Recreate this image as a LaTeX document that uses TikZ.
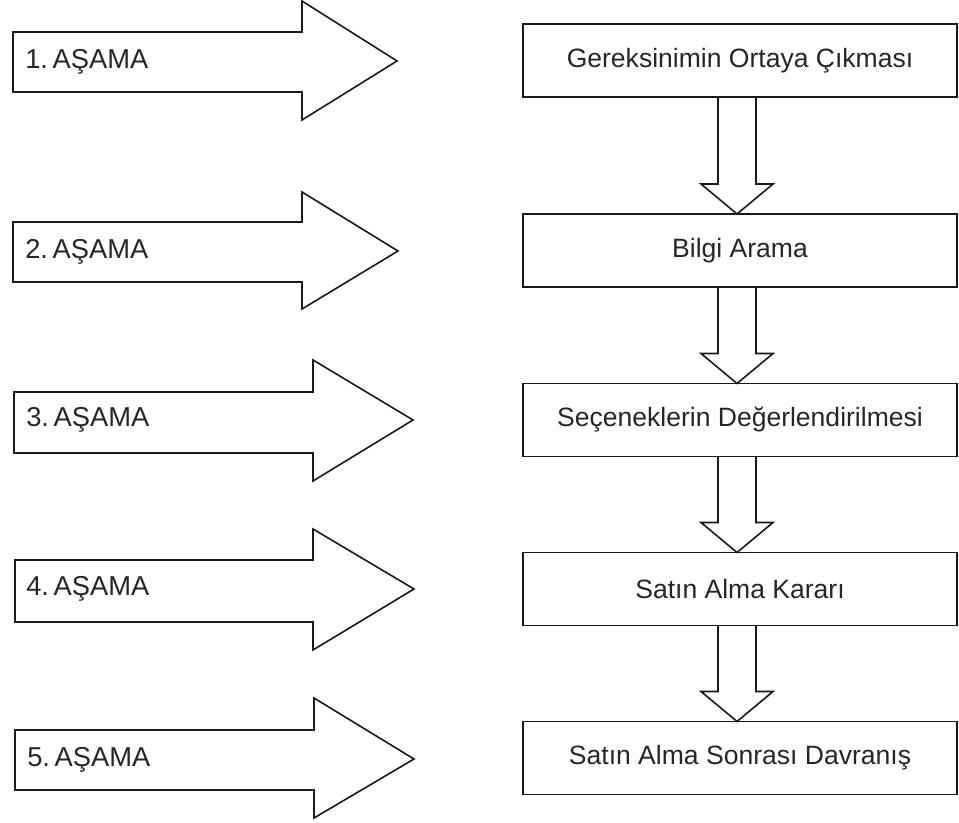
\documentclass[tikz,border=0pt]{standalone}
\usepackage{fontspec}
\setmainfont{Liberation Sans}
\usetikzlibrary{calc}

\tikzset{
  stagearrow/.style={draw=black!90, line width=1.2pt, line join=miter},
  stagelabel/.style={anchor=west, inner sep=0pt, text=black!85, font=\fontsize{20.5}{24}\selectfont},
  stepbox/.style={draw=black!90, line width=1.2pt, minimum width=325.5pt, minimum height=54.75pt,
    inner sep=0pt, outer sep=0pt, text=black!85, font=\fontsize{19.9}{23}\selectfont},
  hollowdown/.style={draw=black!90, line width=1.2pt, line join=miter, to path={
    ($(\tikztostart)+(-22,0)$) -- ($(\tikztotarget)+(-22,-30)$) -- ($(\tikztotarget)+(-39,-30)$)
    -- ($(\tikztotarget)+(-3,0)$) -- ($(\tikztotarget)+(33,-30)$) -- ($(\tikztotarget)+(16,-30)$)
    -- ($(\tikztostart)+(16,0)$)}}
}

\begin{document}
\begin{tikzpicture}[x=0.75pt,y=0.75pt,yscale=-1]
\useasboundingbox (0,0) rectangle (959,823);

%Shape: Right Arrow 1
\draw[stagearrow] (13,32) -- (302,32) -- (302,1) -- (397,61) -- (302,120) -- (302,92) -- (13,92) -- cycle ;
%Shape: Right Arrow 2
\draw[stagearrow] (13,222) -- (302,222) -- (302,192) -- (398,251) -- (302,309) -- (302,282) -- (13,282) -- cycle ;
%Shape: Right Arrow 3
\draw[stagearrow] (14,392) -- (313,392) -- (313,360) -- (413,420) -- (313,481) -- (313,453) -- (14,453) -- cycle ;
%Shape: Right Arrow 4
\draw[stagearrow] (15,560) -- (313,560) -- (313,529) -- (414,589) -- (313,650) -- (313,622) -- (15,622) -- cycle ;
%Shape: Right Arrow 5
\draw[stagearrow] (15,730) -- (314,730) -- (314,698) -- (414,759) -- (314,818) -- (314,790) -- (15,790) -- cycle ;

% Text Node
\node[stagelabel] (s1) at (25,62) {1.\,AŞAMA};
% Text Node
\node[stagelabel] (s2) at (25,252) {2.\,AŞAMA};
% Text Node
\node[stagelabel] (s3) at (26,420) {3.\,AŞAMA};
% Text Node
\node[stagelabel] (s4) at (26,589) {4.\,AŞAMA};
% Text Node
\node[stagelabel] (s5) at (27,760) {5.\,AŞAMA};

%Shape: Rectangle
\node[stepbox] (b1) at (740,60.5) {Gereksinimin Ortaya Çıkması};
\node[stepbox] (b2) at (740,250.5) {Bilgi Arama};
\node[stepbox] (b3) at (740,420) {Seçeneklerin Değerlendirilmesi};
\node[stepbox] (b4) at (740,589) {Satın Alma Kararı};
\node[stepbox] (b5) at (740,758) {Satın Alma Sonrası Davranış};

%Block Arrows
\draw[hollowdown] (b1.south) to (b2.north) ;
\draw[hollowdown] (b2.south) to (b3.north) ;
\draw[hollowdown] (b3.south) to (b4.north) ;
\draw[hollowdown] (b4.south) to (b5.north) ;

\end{tikzpicture}
\end{document}
